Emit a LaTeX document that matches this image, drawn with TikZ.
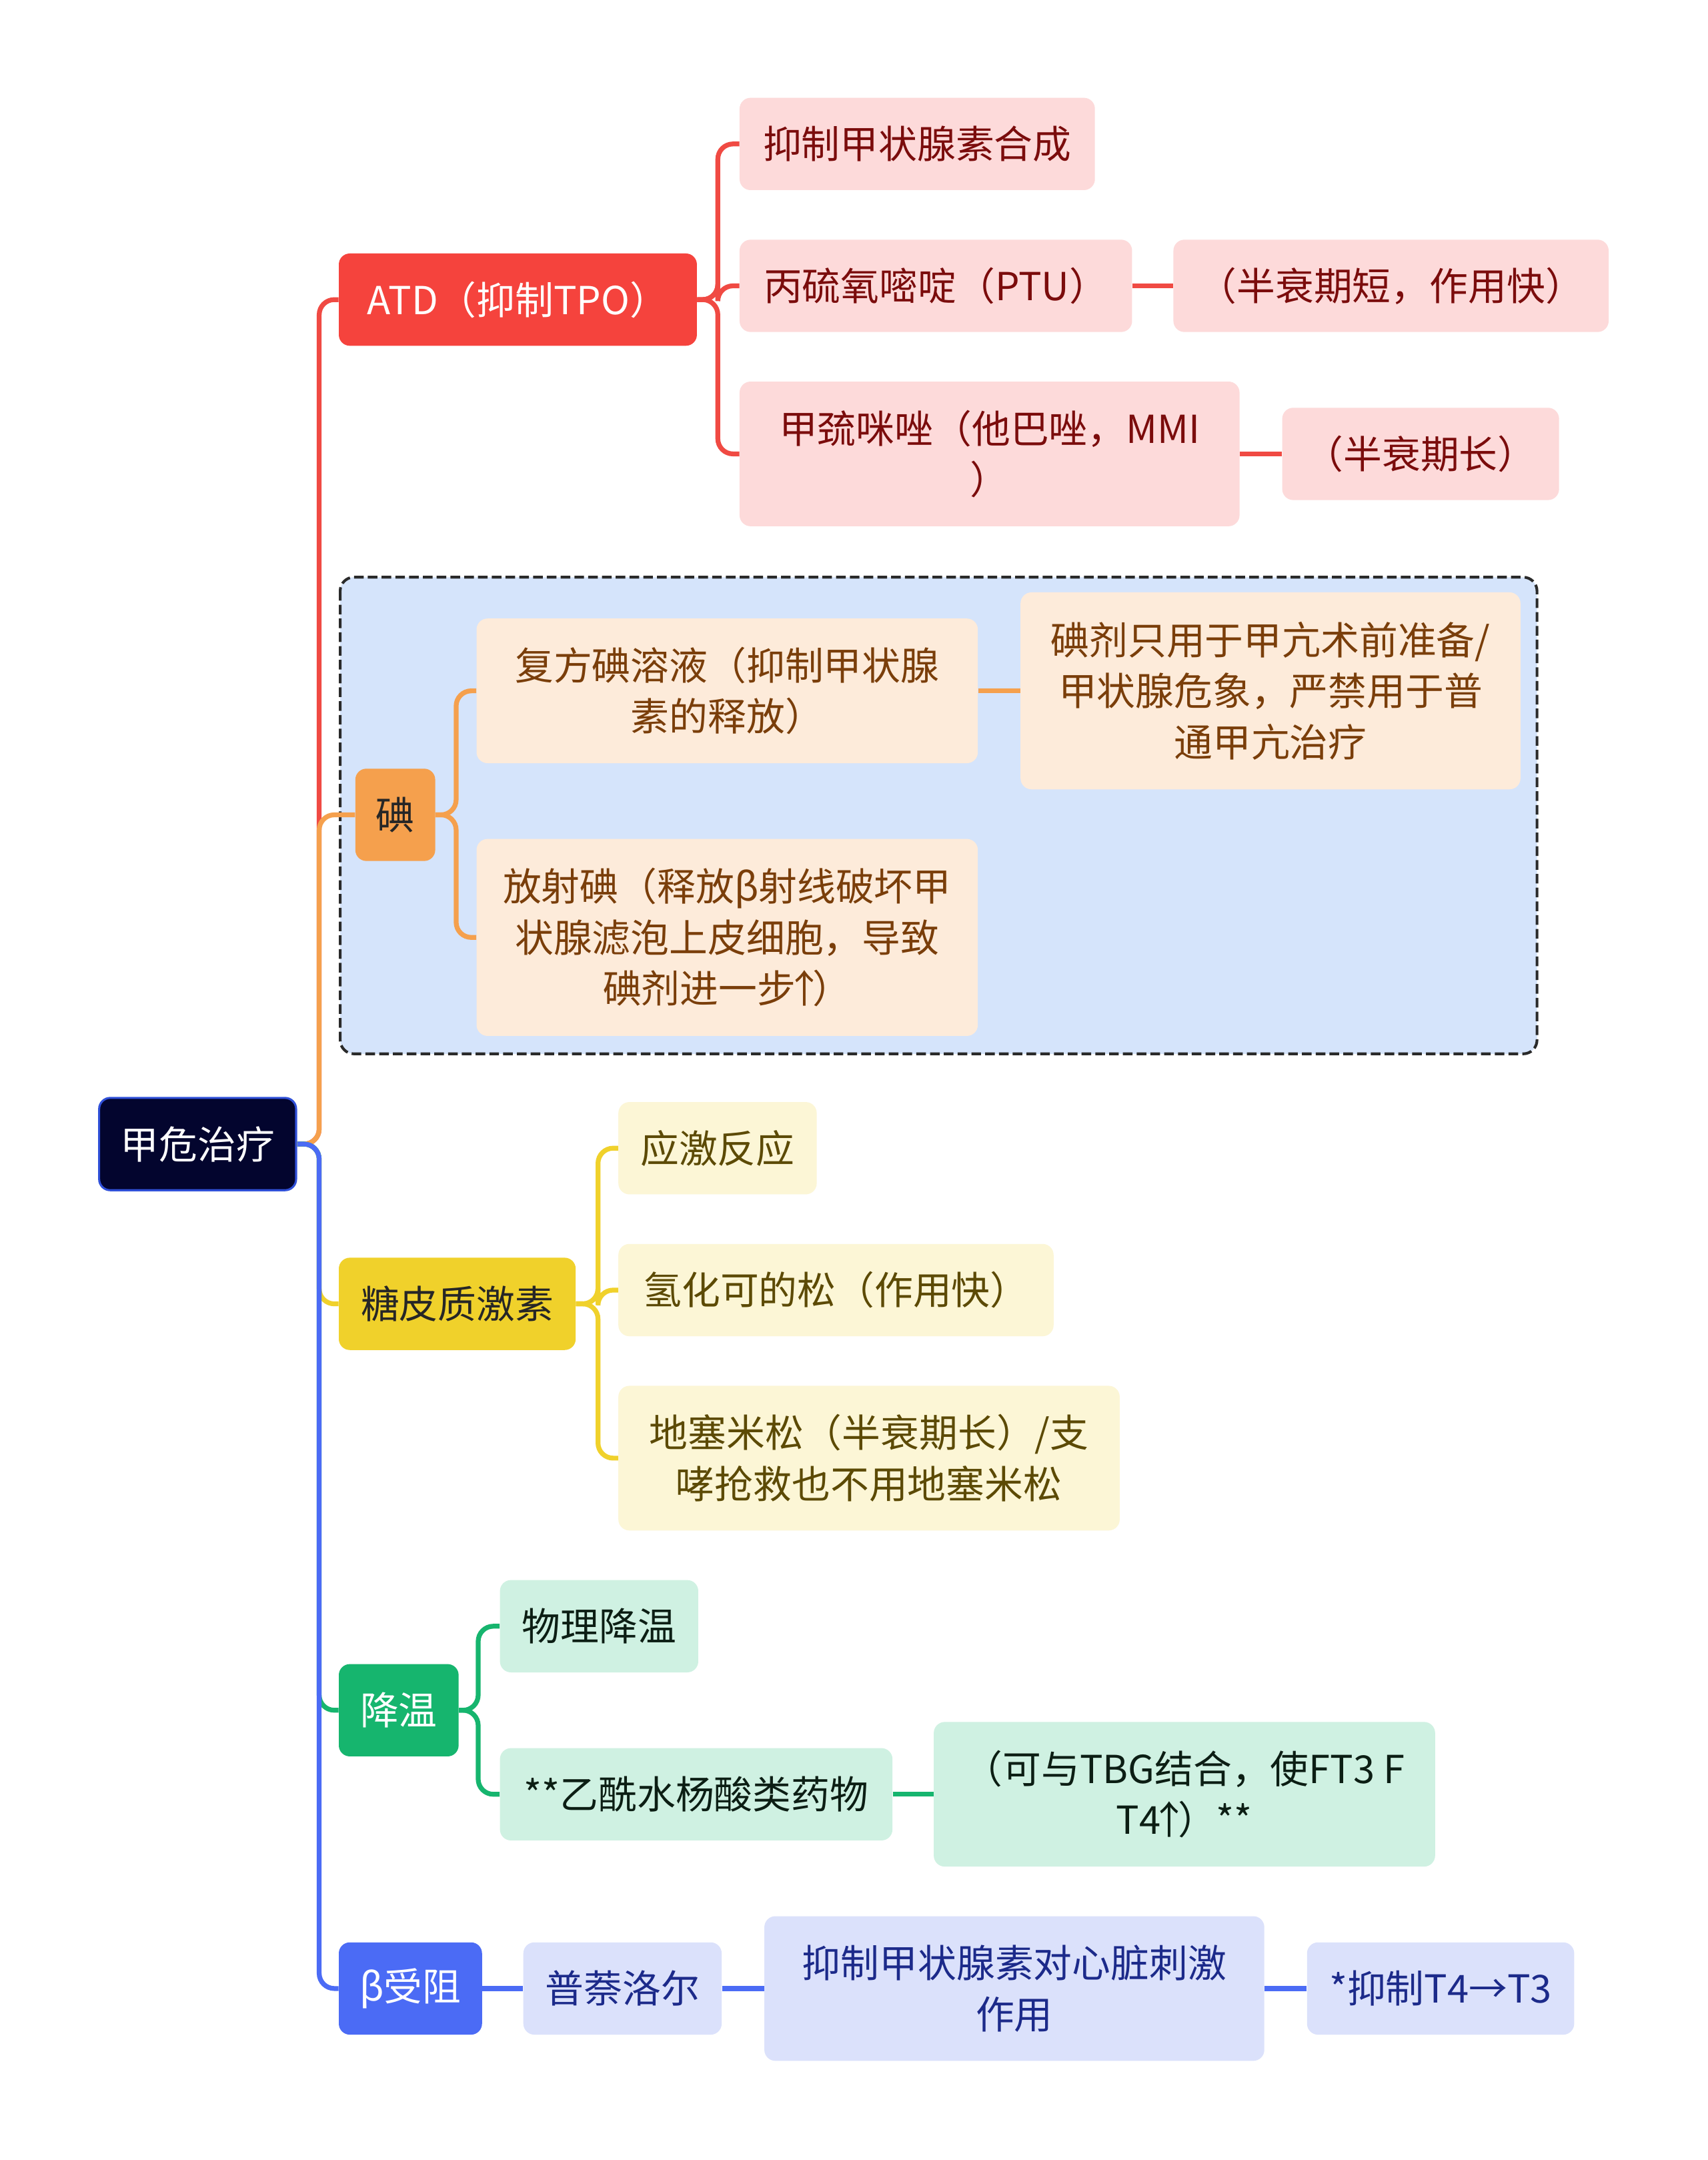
\documentclass[tikz,border=0pt]{standalone}
\usepackage{fontspec}
\setmainfont{Noto Sans CJK SC}
\newcommand{\uparr}{\kern-0.28em↑\kern-0.28em}
\definecolor{rootfill}{HTML}{03052E}
\definecolor{rootdraw}{HTML}{3050D8}
\definecolor{redmain}{HTML}{F5433D}
\definecolor{redline}{HTML}{F04A43}
\definecolor{redsub}{HTML}{FDDADA}
\definecolor{redtext}{HTML}{7B0C0C}
\definecolor{orgmain}{HTML}{F5A04D}
\definecolor{orgsub}{HTML}{FDEBDA}
\definecolor{orgtext}{HTML}{7A3E0A}
\definecolor{grpfill}{HTML}{D5E4FB}
\definecolor{grpdraw}{HTML}{2A2A2A}
\definecolor{yelmain}{HTML}{F0D12B}
\definecolor{yelsub}{HTML}{FCF6D6}
\definecolor{yeltext}{HTML}{5C4A05}
\definecolor{grnmain}{HTML}{16B56E}
\definecolor{grnsub}{HTML}{CFF1E2}
\definecolor{grntext}{HTML}{0C1E14}
\definecolor{blumain}{HTML}{4B6BF5}
\definecolor{blusub}{HTML}{DBE1FB}
\definecolor{blutext}{HTML}{1C2A8A}
\begin{document}
\begin{tikzpicture}[x=1pt,y=-1pt,
  box/.style={rounded corners=8pt, inner sep=0pt, align=center, font=\fontsize{28}{37}\selectfont},
  rootbox/.style={box, fill=rootfill, draw=rootdraw, line width=1.5pt, text=white},
  redtop/.style={box, fill=redmain, text=white},
  redbox/.style={box, fill=redsub, text=redtext},
  orgtop/.style={box, fill=orgmain, text=black!85},
  orgbox/.style={box, fill=orgsub, text=orgtext},
  yeltop/.style={box, fill=yelmain, text=black!85},
  yelbox/.style={box, fill=yelsub, text=yeltext},
  grntop/.style={box, fill=grnmain, text=white},
  grnbox/.style={box, fill=grnsub, text=grntext},
  blutop/.style={box, fill=blumain, text=white},
  blubox/.style={box, fill=blusub, text=blutext},
  conn/.style={line width=3.5pt, rounded corners=11pt},
  flat/.style={line width=3.5pt}
]
\useasboundingbox (0,0) rectangle (1240,1568);
\fill[white] (0,0) rectangle (1240,1568);

% group background
\draw[fill=grpfill, draw=grpdraw, dash pattern=on 7pt off 3pt, line width=2pt, rounded corners=10pt] (247,419) rectangle (1116,765);

% root
\node[rootbox, minimum width=143pt, minimum height=67pt] (root) at (143.5,830.5) {甲危治疗};

% ATD branch
\node[redtop, minimum width=260pt, minimum height=67pt] (atd) at (376,217.5) {ATD（抑制TPO）};
\node[redbox, minimum width=258pt, minimum height=67pt] (r1) at (666,104.5) {抑制甲状腺素合成};
\node[redbox, minimum width=285pt, minimum height=67pt] (r2) at (679.5,207.5) {丙硫氧嘧啶（PTU）};
\node[redbox, minimum width=363pt, minimum height=105pt] (r3) at (718.5,329.5) {甲巯咪唑（他巴唑，MMI\\）};
\node[redbox, minimum width=316pt, minimum height=67pt] (r4) at (1010,207.5) {（半衰期短，作用快）};
\node[redbox, minimum width=201pt, minimum height=67pt] (r5) at (1031.5,329.5) {（半衰期长）};

% iodine branch
\node[orgtop, minimum width=58pt, minimum height=67pt] (io) at (287,591.5) {碘};
\node[orgbox, minimum width=364pt, minimum height=105pt] (o1) at (528,501.5) {复方碘溶液（抑制甲状腺\\素的释放）};
\node[orgbox, minimum width=363pt, minimum height=143pt] (o2) at (922.5,501.5) {碘剂只用于甲亢术前准备/\\甲状腺危象，严禁用于普\\通甲亢治疗};
\node[orgbox, minimum width=364pt, minimum height=143pt] (o3) at (528,680.5) {放射碘（释放β射线破坏甲\\状腺滤泡上皮细胞，导致\\碘剂进一步\uparr）};

% glucocorticoid branch
\node[yeltop, minimum width=172pt, minimum height=67pt] (gc) at (332,946.5) {糖皮质激素};
\node[yelbox, minimum width=144pt, minimum height=67pt] (y1) at (521,833.5) {应激反应};
\node[yelbox, minimum width=316pt, minimum height=67pt] (y2) at (607,936.5) {氢化可的松（作用快）};
\node[yelbox, minimum width=364pt, minimum height=105pt] (y3) at (631,1058.5) {地塞米松（半衰期长）/支\\哮抢救也不用地塞米松};

% cooling branch
\node[grntop, minimum width=87pt, minimum height=67pt] (cool) at (289.5,1241.5) {降温};
\node[grnbox, minimum width=144pt, minimum height=67pt] (g1) at (435,1180.5) {物理降温};
\node[grnbox, minimum width=285pt, minimum height=67pt] (g2) at (505.5,1302.5) {**乙酰水杨酸类药物};
\node[grnbox, minimum width=364pt, minimum height=105pt] (g3) at (860,1302.5) {（可与TBG结合，使FT3 F\\T4\uparr）**};

% beta blocker branch
\node[blutop, minimum width=104pt, minimum height=67pt] (beta) at (298,1443.5) {β受阻};
\node[blubox, minimum width=144pt, minimum height=67pt] (b1) at (452,1443.5) {普萘洛尔};
\node[blubox, minimum width=363pt, minimum height=105pt] (b2) at (736.5,1443.5) {抑制甲状腺素对心脏刺激\\作用};
\node[blubox, minimum width=194pt, minimum height=67pt] (b3) at (1046,1443.5) {*抑制T4→T3};

% connectors: root to main branches
\draw[conn, redline] (root.east) -- ++(16,0) |- (atd.west);
\draw[conn, orgmain] (root.east) -- ++(16,0) |- (io.west);
\draw[conn, yelmain] (root.east) -- ++(16,0) |- (gc.west);
\draw[conn, grnmain] (root.east) -- ++(16,0) |- (cool.west);
\draw[conn, blumain] (root.east) -- ++(16,0) |- (beta.west);

% ATD children
\draw[conn, redline] (atd.east) -- ++(15,0) |- (r1.west);
\draw[conn, redline] (atd.east) -- ++(15,0) |- (r2.west);
\draw[conn, redline] (atd.east) -- ++(15,0) |- (r3.west);
\draw[flat, redline] (r2.east) -- (r4.west);
\draw[flat, redline] (r3.east) -- (r5.west);

% iodine children
\draw[conn, orgmain] (io.east) -- ++(15,0) |- (o1.west);
\draw[conn, orgmain] (io.east) -- ++(15,0) |- (o3.west);
\draw[flat, orgmain] (o1.east) -- (o2.west);

% glucocorticoid children
\draw[conn, yelmain] (gc.east) -- ++(16,0) |- (y1.west);
\draw[conn, yelmain] (gc.east) -- ++(16,0) |- (y2.west);
\draw[conn, yelmain] (gc.east) -- ++(16,0) |- (y3.west);

% cooling children
\draw[conn, grnmain] (cool.east) -- ++(14,0) |- (g1.west);
\draw[conn, grnmain] (cool.east) -- ++(14,0) |- (g2.west);
\draw[flat, grnmain] (g2.east) -- (g3.west);

% beta children
\draw[flat, blumain] (beta.east) -- (b1.west);
\draw[flat, blumain] (b1.east) -- (b2.west);
\draw[flat, blumain] (b2.east) -- (b3.west);
\end{tikzpicture}
\end{document}
